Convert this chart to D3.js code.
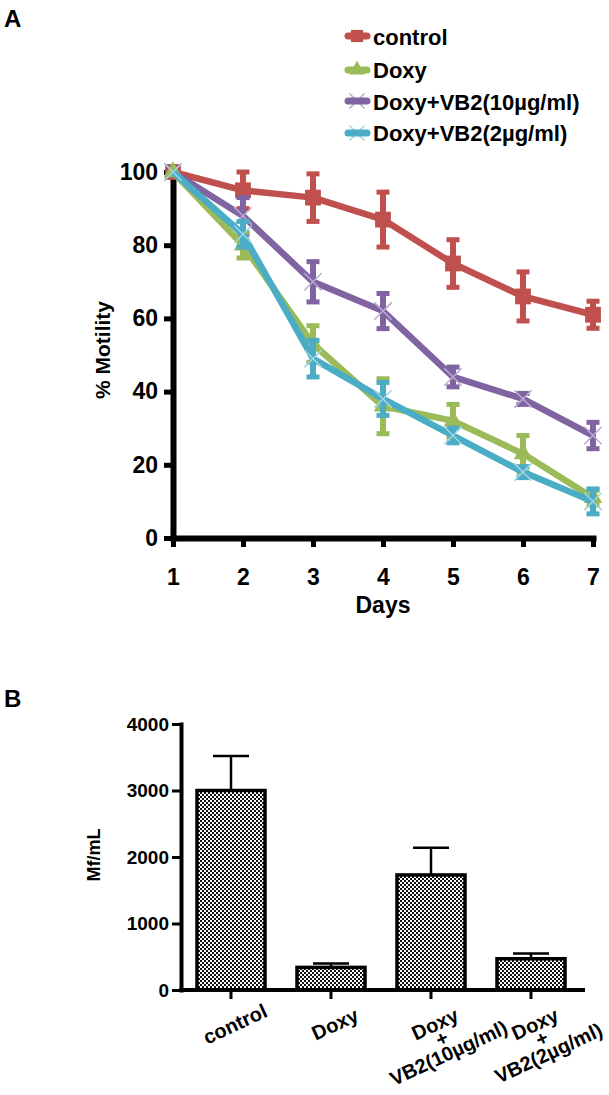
<!DOCTYPE html>
<html><head><meta charset="utf-8">
<script src="https://cdn.jsdelivr.net/npm/d3@7"></script>
<style>
html,body{margin:0;padding:0;background:#fff;}
svg{display:block;font-family:"Liberation Sans",Arial,Helvetica,sans-serif;font-weight:bold;}
</style></head>
<body>
<script>
// ---------- Panel A data ----------
const days = [1,2,3,4,5,6,7];
const seriesNames = ["control","Doxy","Doxy+VB2(10µg/ml)","Doxy+VB2(2µg/ml)"];
const controlMean = [100,95,93,87,75,66,61];
const controlErr  = [0,5,6.5,7.5,6.5,6.7,3.7];
const doxyMean    = [100,80,53,36,32,23,11];
const doxyErr     = [0,3.5,5,7.5,4.5,5,2];
const vb10Mean    = [100,88,70,62,44,38,28];
const vb10Err     = [0,5,5.5,4.8,2.7,1.5,3.6];
const vb2Mean     = [100,83,49,38,28,18,10];
const vb2Err      = [0,3.5,5,4.5,2,1.5,3.4];
const yTicksA = [0,20,40,60,80,100];

// ---------- Panel B data ----------
const barKeys = ["control","Doxy","Doxy+VB2(10µg/ml)","Doxy+VB2(2µg/ml)"];
const barLabelLines = [["control"],["Doxy"],["Doxy","+","VB2(10µg/ml)"],["Doxy","+","VB2(2µg/ml)"]];
const barMeans = [3000,340,1730,470];
const barErrs  = [520,60,410,80];
const yTicksB = [0,1000,2000,3000,4000];

const W = 609, H = 1095;
const svg = d3.select("body").append("svg").attr("width",W).attr("height",H);

const defs = svg.append("defs");
const pat = defs.append("pattern").attr("id","checker").attr("width",4).attr("height",4).attr("patternUnits","userSpaceOnUse");
pat.append("rect").attr("width",4).attr("height",4).attr("fill","#fff");
pat.append("rect").attr("x",0).attr("y",0).attr("width",2).attr("height",2).attr("fill","#111");
pat.append("rect").attr("x",2).attr("y",2).attr("width",2).attr("height",2).attr("fill","#111");

// Panel letters
svg.append("text").attr("x",4).attr("y",27).attr("font-size",24).text("A");
svg.append("text").attr("x",4).attr("y",707).attr("font-size",24).text("B");

// ================= Panel A =================
const xA = d3.scaleLinear().domain([1,7]).range([173,593]);
const yA = d3.scaleLinear().domain([0,100]).range([538,172]);

const gYA = svg.append("g").attr("transform",`translate(${xA(1)},0)`)
  .call(d3.axisLeft(yA).tickValues(yTicksA).tickSize(9).tickSizeOuter(0).tickPadding(6));
const gXA = svg.append("g").attr("transform",`translate(0,${yA(0)})`)
  .call(d3.axisBottom(xA).tickValues(days).tickFormat(d3.format("d")).tickSize(9).tickSizeOuter(0).tickPadding(22));
[gYA,gXA].forEach(g=>{
  g.select(".domain").attr("stroke","#000").attr("stroke-width",6).attr("stroke-linecap","square");
  g.selectAll(".tick line").attr("stroke","#000").attr("stroke-width",5);
  g.selectAll(".tick text").attr("fill","#000").attr("font-size",23).attr("font-family","Liberation Sans, Arial, sans-serif").attr("font-weight","bold");
});

svg.append("text").attr("transform","translate(110,350) rotate(-90)").attr("text-anchor","middle").attr("font-size",21).text("% Motility");
svg.append("text").attr("x",383).attr("y",613).attr("text-anchor","middle").attr("font-size",23).text("Days");

const series = [
  {name:seriesNames[0], mean:controlMean, err:controlErr, color:"#C0504D", sym:d3.symbolSquare, size:250, fill:true},
  {name:seriesNames[2], mean:vb10Mean, err:vb10Err, color:"#8064A2", sym:d3.symbolX, size:200, fill:false, light:"#B8A9D4"},
  {name:seriesNames[1], mean:doxyMean, err:doxyErr, color:"#9BBB59", sym:d3.symbolTriangle, size:150, fill:true},
  {name:seriesNames[3], mean:vb2Mean, err:vb2Err, color:"#4BACC6", sym:d3.symbolX, size:200, fill:false, light:"#9FD4E6"}
];

const line = d3.line().x(d=>xA(d.day)).y(d=>yA(d.v));
series.forEach(s=>{
  const pts = days.map((d,i)=>({day:d, v:s.mean[i], e:s.err[i]}));
  const g = svg.append("g");
  pts.filter(p=>p.e>0).forEach(p=>{
    g.append("line").attr("x1",xA(p.day)).attr("x2",xA(p.day)).attr("y1",yA(p.v+p.e)).attr("y2",yA(p.v-p.e))
      .attr("stroke",s.color).attr("stroke-width",6);
    [p.v+p.e,p.v-p.e].forEach(v=>{
      g.append("line").attr("x1",xA(p.day)-6.5).attr("x2",xA(p.day)+6.5).attr("y1",yA(v)).attr("y2",yA(v))
        .attr("stroke",s.color).attr("stroke-width",5);
    });
  });
  g.append("path").datum(pts).attr("d",line).attr("fill","none").attr("stroke",s.color).attr("stroke-width",6.5).attr("stroke-linejoin","round");
  pts.forEach(p=>{
    const sp = g.append("path").attr("d",d3.symbol().type(s.sym).size(s.size)())
      .attr("transform",`translate(${xA(p.day)},${yA(p.v)})`);
    if(s.fill) sp.attr("fill",s.color);
    else sp.attr("fill","none").attr("stroke",s.light).attr("stroke-width",1.5);
  });
});

// Legend
const legendOrder = [
  {name:seriesNames[0], color:"#C0504D", sym:d3.symbolSquare, size:150, fill:true, y:36, by:45},
  {name:seriesNames[1], color:"#9BBB59", sym:d3.symbolTriangle, size:110, fill:true, y:70, by:78},
  {name:seriesNames[2], color:"#8064A2", sym:d3.symbolX, size:150, fill:false, light:"#B8A9D4", y:101, by:110},
  {name:seriesNames[3], color:"#4BACC6", sym:d3.symbolX, size:150, fill:false, light:"#9FD4E6", y:133, by:141}
];
legendOrder.forEach(l=>{
  const g = svg.append("g");
  if(!l.fill){
    g.append("path").attr("d",d3.symbol().type(l.sym).size(l.size)()).attr("transform",`translate(357,${l.y})`)
      .attr("fill","none").attr("stroke",l.light).attr("stroke-width",1.5);
  }
  g.append("line").attr("x1",348).attr("x2",367).attr("y1",l.y).attr("y2",l.y).attr("stroke",l.color).attr("stroke-width",7).attr("stroke-linecap","round");
  if(l.fill){
    g.append("path").attr("d",d3.symbol().type(l.sym).size(l.size)()).attr("transform",`translate(357,${l.y})`).attr("fill",l.color);
  }
  g.append("text").attr("x",373).attr("y",l.by).attr("font-size",22).text(l.name);
});

// ================= Panel B =================
const xB = d3.scaleBand().domain(barKeys).range([181,581]).paddingInner(0.32).paddingOuter(0.16);
const yB = d3.scaleLinear().domain([0,4000]).range([990,724]);

const gB = svg.append("g");
barKeys.forEach((k,i)=>{
  const cx = xB(k)+xB.bandwidth()/2;
  gB.append("line").attr("x1",cx).attr("x2",cx).attr("y1",yB(barMeans[i])).attr("y2",yB(barMeans[i]+barErrs[i]))
    .attr("stroke","#000").attr("stroke-width",2.5);
  gB.append("line").attr("x1",cx-18).attr("x2",cx+18).attr("y1",yB(barMeans[i]+barErrs[i])).attr("y2",yB(barMeans[i]+barErrs[i]))
    .attr("stroke","#000").attr("stroke-width",2.5);
  gB.append("rect").attr("x",xB(k)).attr("y",yB(barMeans[i])).attr("width",xB.bandwidth()).attr("height",yB(0)-yB(barMeans[i]))
    .attr("fill","url(#checker)").attr("stroke","#000").attr("stroke-width",3.5);
});

const gYB = svg.append("g").attr("transform",`translate(181,0)`)
  .call(d3.axisLeft(yB).tickValues(yTicksB).tickFormat(d3.format("d")).tickSize(9).tickSizeOuter(0).tickPadding(3));
const gXB = svg.append("g").attr("transform",`translate(0,990)`)
  .call(d3.axisBottom(xB).tickSize(9).tickSizeOuter(0).tickFormat(""));
[gYB,gXB].forEach(g=>{
  g.select(".domain").attr("stroke","#000").attr("stroke-width",4).attr("stroke-linecap","square");
  g.selectAll(".tick line").attr("stroke","#000").attr("stroke-width",3);
  g.selectAll(".tick text").attr("fill","#000").attr("font-size",19).attr("font-family","Liberation Sans, Arial, sans-serif").attr("font-weight","bold");
});
gXB.select(".domain").attr("d","M181,0H583");

barKeys.forEach((k,i)=>{
  const cx = xB(k)+xB.bandwidth()/2;
  const g = svg.append("g").attr("transform",`translate(${cx+4},1024) rotate(-25)`);
  barLabelLines[i].forEach((t,j)=>{
    g.append("text").attr("x",0).attr("y",j*16).attr("dy","0.35em").attr("text-anchor","middle").attr("font-size",20).text(t);
  });
});

svg.append("text").attr("transform","translate(100,855) rotate(-90)").attr("text-anchor","middle").attr("font-size",18).text("Mf/mL");
</script>
</body></html>
